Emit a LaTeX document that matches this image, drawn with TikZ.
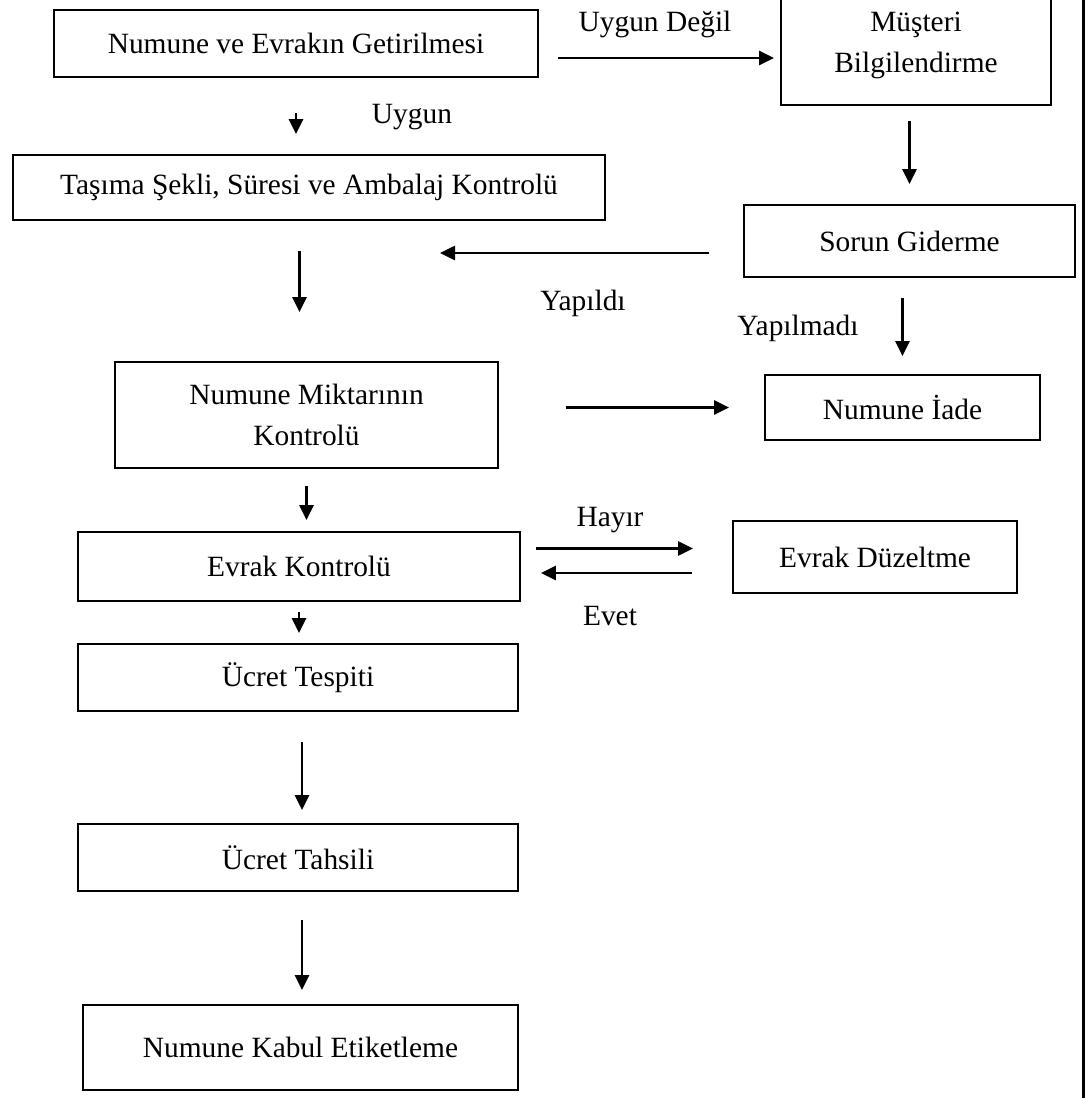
\documentclass[tikz,border=0pt]{standalone}
\usepackage{fontspec}
\setmainfont{Liberation Serif}
\usetikzlibrary{arrows}
\usetikzlibrary{arrows.meta}
\usetikzlibrary{calc}
\tikzset{>=latex}
\tikzset{
    kutu/.style={draw=black, line width=0.9pt, rectangle, align=center, inner sep=2pt},
    ok/.style={-{Triangle[length=7.5pt,width=7pt]}, line width=1.3pt},
    etiket/.style={font=\fontsize{14.7}{20.5}\selectfont}
}

\begin{document}
\begin{tikzpicture}[x=0.5pt, y=-0.5pt, font=\fontsize{14.7}{20.5}\selectfont]
    \useasboundingbox (0,0) rectangle (1088,1098);

    % Define the boxes of the flow
    \node[kutu, minimum width=242pt, minimum height=33.5pt] (getir) at (296,43.5) {Numune ve Evrakın Getirilmesi};
    \node[kutu, minimum width=135pt, minimum height=60pt] (musteri) at (916,45) {Müşteri\\Bilgilendirme};
    \node[kutu, minimum width=296pt, minimum height=32.5pt] (tasima) at (309,187.5) {Taşıma Şekli, Süresi ve Ambalaj Kontrolü};
    \node[kutu, minimum width=165.5pt, minimum height=36pt] (sorun) at (909.5,241) {Sorun Giderme};
    \node[kutu, minimum width=191.5pt, minimum height=53pt] (miktar) at (306.5,415) {Numune Miktarının\\Kontrolü};
    \node[kutu, minimum width=137.5pt, minimum height=32.5pt] (iade) at (902.5,407.5) {Numune İade};
    \node[kutu, minimum width=221pt, minimum height=34.5pt] (evrak) at (299,566.5) {Evrak Kontrolü};
    \node[kutu, minimum width=142pt, minimum height=36pt] (duzelt) at (875,557) {Evrak Düzeltme};
    \node[kutu, minimum width=220pt, minimum height=33.5pt] (tespit) at (298,677.5) {Ücret Tespiti};
    \node[kutu, minimum width=220pt, minimum height=33.5pt] (tahsil) at (298,857.5) {Ücret Tahsili};
    \node[kutu, minimum width=217.5pt, minimum height=42.5pt] (etiket) at (300.5,1047.5) {Numune Kabul Etiketleme};

    \coordinate (yapildi) at (440,253);

    % Draw the arrows between the boxes
    \draw[ok, shorten <=9.5pt, shorten >=3pt] ([yshift=-7.25pt]getir.east) -- ([yshift=-7.25pt]getir.east -| musteri.west);
    \draw[ok, shorten <=17.5pt, shorten >=10pt] (getir.south) -- (getir.south |- tasima.north);
    \draw[ok, shorten <=7.5pt, shorten >=10pt] (sorun.north |- musteri.south) -- (sorun.north);
    \draw[ok, shorten <=17pt] ([yshift=-6pt]sorun.west) -- (yapildi);
    \draw[ok, shorten <=15pt, shorten >=24.5pt] ([xshift=-3.5pt]miktar.north |- tasima.south) -- ([xshift=-3.5pt]miktar.north);
    \draw[ok, shorten <=10pt, shorten >=9pt] (iade.north |- sorun.south) -- (iade.north);
    \draw[ok, shorten <=33.5pt, shorten >=17.5pt] (miktar.east |- iade.west) -- (iade.west);
    \draw[ok, shorten <=8.5pt, shorten >=5.5pt] (miktar.south) -- (miktar.south |- evrak.north);
    \draw[ok, shorten <=7.5pt, shorten >=19.5pt] ([yshift=9pt]evrak.east) -- ([yshift=9pt]evrak.east -| duzelt.west);
    \draw[ok, shorten <=20pt, shorten >=10pt] ([yshift=-3.25pt]evrak.east -| duzelt.west) -- ([yshift=-3.25pt]evrak.east);
    \draw[ok, shorten <=5pt, shorten >=5pt] (evrak.south) -- (evrak.south |- tespit.north);
    \draw[ok, shorten <=15pt, shorten >=6.5pt] ([xshift=2pt]tespit.south) -- ([xshift=2pt]tespit.south |- tahsil.north);
    \draw[ok, shorten <=14pt, shorten >=7pt] ([xshift=2pt]tahsil.south) -- ([xshift=2pt]tahsil.south |- etiket.north);

    % Labels of the arrows
    \node[etiket] (uygundegil) at (655,24) {Uygun Değil};
    \node[etiket] (uygun) at (412,117) {Uygun};
    \node[etiket] (yapildilbl) at (583,303) {Yapıldı};
    \node[etiket] (yapilmadi) at (798,328) {Yapılmadı};
    \node[etiket] (hayir) at (610,520) {Hayır};
    \node[etiket] (evet) at (610,616) {Evet};

    % Page edge on the right
    \draw[line width=1.5pt] (1083,0) -- (1083,1098);
\end{tikzpicture}
\end{document}
